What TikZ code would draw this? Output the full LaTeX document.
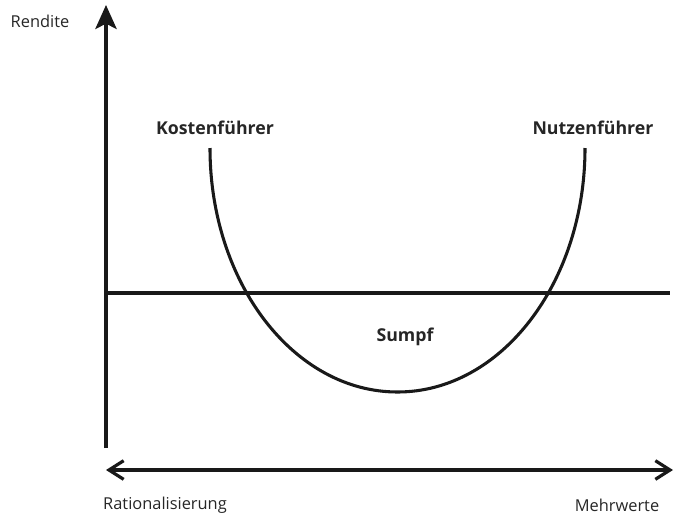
\documentclass[tikz,border=0pt]{standalone}
\usepackage{fontspec}
\setmainfont{Open Sans}
\usetikzlibrary{arrows.meta}
\begin{document}
\begin{tikzpicture}[x=0.75pt,y=-0.75pt,
  axis/.style={line width=2.4pt,black!90},
  curve/.style={line width=2.3pt,black!90},
  lbl/.style={font=\fontsize{12.3}{14}\selectfont,text=black!85,inner sep=0pt},
  blbl/.style={font=\fontsize{13.3}{15}\selectfont\bfseries,text=black!85,inner sep=0pt}]
\useasboundingbox (0,0) rectangle (674,518);
\coordinate (ybot) at (106,448);
\coordinate (ytop) at (106,5);
\coordinate (hl) at (106,293);
\coordinate (hr) at (670,293);
\coordinate (al) at (106,470);
\coordinate (ar) at (673,470);
\coordinate (cl) at (210,148);
\draw[axis,-{Stealth[length=18pt,width=16pt,inset=4pt]}] (ybot) -- (ytop);
\draw[axis] (hl) -- (hr);
\draw[axis,{Straight Barb[length=11pt,width=14pt,line width=2.4pt]}-{Straight Barb[length=11pt,width=14pt,line width=2.4pt]}] (al) -- (ar);
\draw[curve] (cl) arc[start angle=180,end angle=0,x radius=187.5,y radius=244];
\node[lbl] (rendite) at (40,21) {Rendite};
\node[blbl] (kosten) at (215,128) {Kostenführer};
\node[blbl] (nutzen) at (593,128) {Nutzenführer};
\node[blbl] (sumpf) at (405,337) {Sumpf};
\node[lbl] (rat) at (165,505) {Rationalisierung};
\node[lbl] (mehr) at (617,505) {Mehrwerte};
\end{tikzpicture}
\end{document}
